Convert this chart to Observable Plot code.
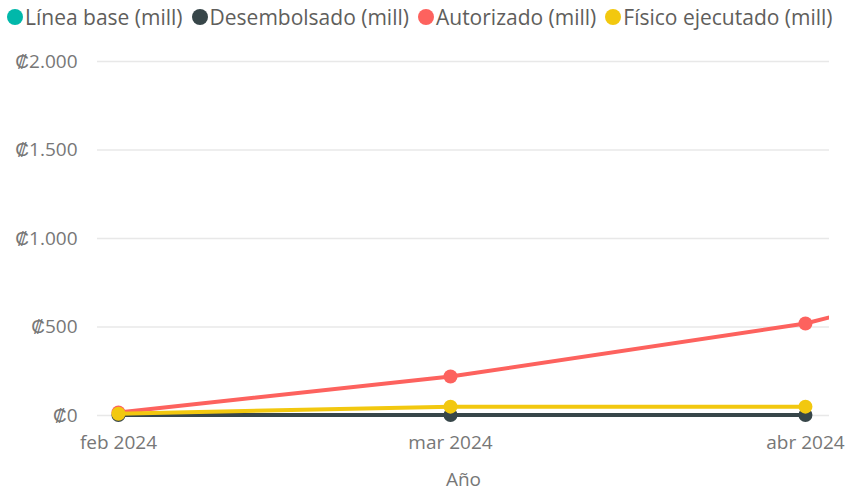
<!DOCTYPE html>
<html>
<head>
<meta charset="utf-8">
<script src="https://cdn.jsdelivr.net/npm/d3@7"></script>
<script src="https://cdn.jsdelivr.net/npm/@observablehq/plot@0.6"></script>
<style>
  body { margin: 0; background: #fff; font-family: "Open Sans", "Segoe UI", sans-serif; }
  #legend { display: flex; align-items: center; height: 33px; padding-left: 7px; color: #605E5C; font-size: 21px; white-space: nowrap; }
  .item { display: flex; align-items: center; margin-right: 9px; }
  .sw { width: 16px; height: 16px; border-radius: 50%; margin-right: 2px; }
  svg text { font-family: "Open Sans", "Segoe UI", sans-serif; font-size: 19px !important; }
</style>
</head>
<body>
<div id="legend"></div>
<div id="chart"></div>
<script>
const seriesNames = ["Línea base (mill)", "Desembolsado (mill)", "Autorizado (mill)", "Físico ejecutado (mill)"];
const seriesColors = ["#01B8AA", "#374649", "#FD625E", "#F2C80F"];
const months = [Date.UTC(2024,1,1), Date.UTC(2024,2,1), Date.UTC(2024,3,1)];
const monthLabels = ["feb 2024", "mar 2024", "abr 2024"];
const nextMonth = Date.UTC(2024,4,1);
const desembolsado = [3, 3, 3];
const autorizado = [17, 220, 520];
const autorizadoNext = 1010;
const fisico = [10, 50, 50];
const yTicks = [0, 500, 1000, 1500, 2000];

const legend = document.getElementById("legend");
seriesNames.forEach((n, i) => {
  const it = document.createElement("div"); it.className = "item";
  const sw = document.createElement("div"); sw.className = "sw"; sw.style.background = seriesColors[i];
  const t = document.createElement("span"); t.textContent = n;
  it.appendChild(sw); it.appendChild(t); legend.appendChild(it);
});

const rows = (vals, s) => vals.map((v, i) => ({date: new Date(months[i]), value: v, series: s}));
const dDes = rows(desembolsado, seriesNames[1]);
const dAut = rows(autorizado, seriesNames[2]);
const dAutLine = dAut.concat([{date: new Date(nextMonth), value: autorizadoNext, series: seriesNames[2]}]);
const dFis = rows(fisico, seriesNames[3]);

const day = 864e5;
const fmt = d => "\u20A1" + d3.format(",")(d).replace(/,/g, ".");

const chart = Plot.plot({
  width: 846,
  height: 459,
  marginLeft: 97,
  marginRight: 17,
  marginTop: 28,
  marginBottom: 77,
  style: {color: "#666", background: "#fff"},
  x: {type: "utc", domain: [new Date(months[0] - 1.83 * day), new Date(months[2] + 2.1 * day)], label: null},
  y: {domain: [0, 2000], label: null},
  marks: [
    Plot.gridY(yTicks, {stroke: "#e8e8e8", strokeOpacity: 1, strokeWidth: 1.5}),
    Plot.axisY(yTicks, {tickSize: 0, tickPadding: 20, tickFormat: fmt, fill: "#777"}),
    Plot.axisX(months.map(m => new Date(m)), {tickSize: 0, tickPadding: 20, tickFormat: (d, i) => monthLabels[i], fill: "#777"}),
    Plot.text(["Año"], {frameAnchor: "bottom", dy: 70, fill: "#777"}),
    Plot.line(dDes, {x: "date", y: "value", stroke: seriesColors[1], strokeWidth: 4}),
    Plot.dot(dDes, {x: "date", y: "value", fill: seriesColors[1], r: 7}),
    Plot.line(dAutLine, {x: "date", y: "value", stroke: seriesColors[2], strokeWidth: 4, clip: "frame"}),
    Plot.dot(dAut, {x: "date", y: "value", fill: seriesColors[2], r: 7}),
    Plot.line(dFis, {x: "date", y: "value", stroke: seriesColors[3], strokeWidth: 4}),
    Plot.dot(dFis, {x: "date", y: "value", fill: seriesColors[3], r: 7})
  ]
});
document.getElementById("chart").appendChild(chart);
</script>
</body>
</html>
